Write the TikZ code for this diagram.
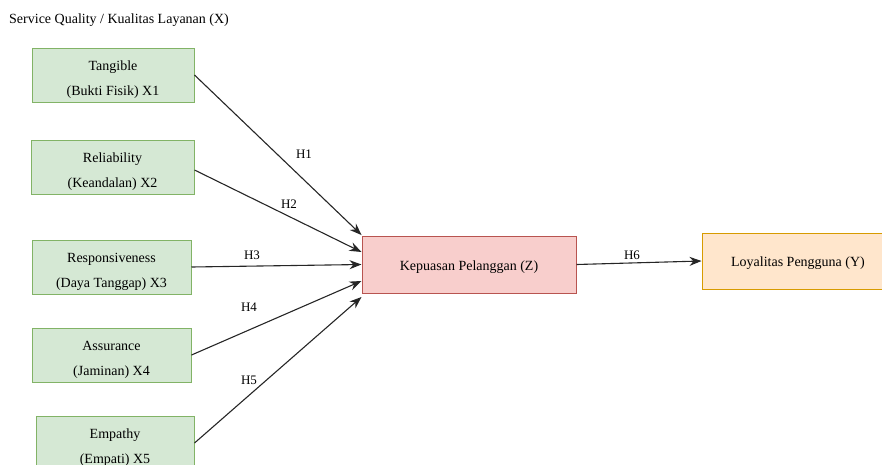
\documentclass[tikz,border=0pt]{standalone}
\usepackage{fontspec}
\setmainfont{Liberation Serif}
\usetikzlibrary{arrows.meta}
\definecolor{gfill}{HTML}{D5E8D4}
\definecolor{gline}{HTML}{82B366}
\definecolor{rfill}{HTML}{F8CECC}
\definecolor{rline}{HTML}{B85450}
\definecolor{ofill}{HTML}{FFE6CC}
\definecolor{oline}{HTML}{D79B00}
\begin{document}
\begin{tikzpicture}[x=1pt,y=-1pt,
  every node/.style={inner sep=0pt},
  txt/.style={font=\fontsize{14}{25}\selectfont, align=center},
  gbox/.style={draw=gline, fill=gfill, line width=1pt, minimum height=54pt},
  zbox/.style={draw=rline, fill=rfill, line width=1pt, minimum width=214pt, minimum height=57pt},
  ybox/.style={draw=oline, fill=ofill, line width=1pt, minimum width=192pt, minimum height=56pt},
  conn/.style={draw=black!85, line width=1.1pt, -{Stealth[length=12pt,width=9pt]}},
  hlab/.style={font=\fontsize{13}{14}\selectfont}
]
\useasboundingbox (0,0) rectangle (882,464);
\node[txt, anchor=west] (title) at (9,20) {Service Quality / Kualitas Layanan (X)};
\node[gbox, minimum width=162pt] (t) at (113,75) {};
\node[gbox, minimum width=163pt] (r) at (112.5,167) {};
\node[gbox, minimum width=159pt] (rs) at (111.5,267) {};
\node[gbox, minimum width=159pt] (a) at (111.5,355) {};
\node[gbox, minimum width=158pt] (e) at (115,443) {};
\node[zbox] (z) at (469,264.5) {};
\node[ybox] (y) at (798,261) {};
\node[txt] (tt) at ([yshift=-5pt]t.center) {Tangible\\(Bukti Fisik) X1};
\node[txt] (rt) at ([yshift=-5pt]r.center) {Reliability\\(Keandalan) X2};
\node[txt] (rst) at ([yshift=-5pt]rs.center) {Responsiveness\\(Daya Tanggap) X3};
\node[txt] (at) at ([yshift=-5pt]a.center) {Assurance\\(Jaminan) X4};
\node[txt] (et) at ([yshift=-5pt]e.center) {Empathy\\(Empati) X5};
\node[txt] (zt) at ([yshift=-3pt]z.center) {Kepuasan Pelanggan (Z)};
\node[txt] (yt) at ([yshift=-2pt]y.center) {Loyalitas Pengguna (Y)};
\draw[conn] (t.east) -- ([yshift=29.5pt]z.west);
\draw[conn] ([yshift=-3pt]r.east) -- ([yshift=12.5pt]z.west);
\draw[conn] (rs.east) -- (z.west);
\draw[conn] (a.east) -- ([yshift=-16.5pt]z.west);
\draw[conn] (e.east) -- ([yshift=-32.5pt]z.west);
\draw[conn] (z.east) -- (y.west);
\node[hlab] (h1) at (304,154) {H1};
\node[hlab] (h2) at (289,204) {H2};
\node[hlab] (h3) at (252,255) {H3};
\node[hlab] (h4) at (249,307) {H4};
\node[hlab] (h5) at (249,380) {H5};
\node[hlab] (h6) at (632,255) {H6};
\end{tikzpicture}
\end{document}
